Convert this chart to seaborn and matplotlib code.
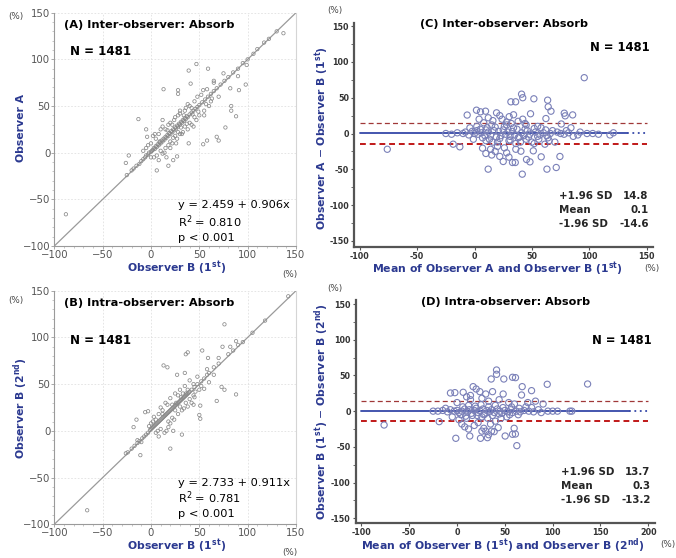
import numpy as np
import pandas as pd
import matplotlib
matplotlib.use("Agg")
import matplotlib.pyplot as plt
import seaborn as sns
from matplotlib.ticker import MultipleLocator

# ---------------- data ----------------
# Panel A: Observer B (1st) vs Observer A
a_obsB = [-88, 137, 117, 106, 47, 39, 59, 41, 13, 28, 28, 65, 54, 90, 98, 91, 82, 99, 83, 83, 88, 77, 68, 70, 58, 54,
          -13, -5, -4, -23, -26, 6, 12, 18, 23, 27, 39,
          -25, -20, -18, -15, -12, -10, -8, -6, -5, -3, -2, 0, 1, 2, 3, 4, 5, 6, 7, 8, 9, 10, 11, 12, 13, 14, 15, 16,
          17, 18, 19, 20, 21, 22, 23, 24, 25, 26, 27, 28, 29, 30, 31, 32, 33, 34, 35, 36, 37, 38, 40, 42, 44, 46, 48,
          50, 53, 56, 59, 62, 65, 68, 72, 76, 80, 85, 90, 95, 100, 110, 122, 130,
          5, 8, 10, 12, 15, 18, 20, 22, 25, 27, 30, 32, 35, 38, 40, 42, 45, 47, 50, 52, 55, 58, 60, 3, 6, 10, 15, 20,
          25, 28, 33, 36, 40, 45, 0, -3, 2, 12, 18, 24, 30, 35, 14, 20, 26, 30, 38, 44, 48, 55, 62, 65, 70, 75, 8, 16,
          22, 28, 34, 42, 0, -5, -8, 4, 9, 17, 23, 31, 37, 43, 49, 57, 63]
a_obsA = [-66, 128, 118, 106, 95, 88, 90, 74, 68, 67, 63, 77, 67, 82, 73, 67, 69, 94, 50, 45, 39, 27, 17, 13, 13, 9,
          36, 25, 17, -3, -11, -19, -1, -14, -8, -4, 10,
          -24, -19, -17, -14, -12, -9, -7, -5, -3, -2, 0, 1, 2, 3, 5, 4, 7, 6, 9, 8, 11, 10, 13, 12, 15, 14, 17, 16,
          19, 18, 21, 20, 23, 22, 25, 24, 27, 26, 29, 28, 31, 30, 33, 32, 35, 34, 37, 36, 39, 38, 41, 43, 45, 47, 49,
          51, 54, 57, 60, 63, 66, 69, 73, 77, 81, 86, 90, 96, 100, 111, 122, 130,
          15, 20, 25, 28, 5, 8, 32, 10, 38, 15, 42, 20, 45, 25, 50, 30, 55, 35, 40, 62, 45, 68, 50, -5, -3, 2, 25, 12,
          18, 40, 22, 48, 32, 38, 10, 8, 18, 35, 30, 35, 20, 28, 0, 5, 10, 45, 52, 28, 60, 40, 55, 75, 60, 85, -8, -5,
          30, 22, 40, 48, -5, 5, 2, 20, 12, 24, 16, 27, 31, 41, 44, 52, 58]

# Panel B: Observer B (1st) vs Observer B (2nd)
b_first = [-66, 142, 76, 53, 38, 36, 13, 17, 27, 35, 59, 58, 74, 82, 88, 73, 76, 88, 68, 51, 44, 50, 51, 32, 20,
           -11, -18, -15, -6, -3, 23, 16, -26, -14, -10,
           118, 105, 95, 90, 85, 80, 70, 65, 60, 58, 55, 52, 48, 45, 42, 40,
           -24, -20, -17, -14, -12, -9, -7, -5, -3, -1, 0, 1, 2, 3, 4, 5, 6, 7, 8, 9, 10, 11, 12, 13, 14, 15, 16, 17,
           18, 19, 20, 21, 22, 23, 24, 25, 26, 27, 28, 29, 30, 31, 32, 33, 34, 35, 36, 37, 38, 39,
           0, 5, 8, 12, 15, 18, 20, 22, 25, 28, 30, 32, 35, 38, 40, 42, 45, 48, 55, 60, 65, 70, 10, 14, 20, 24, 28, 33,
           36, 40, 44, 5, -2, 3, 10, 17, 26, 34, 38, 46, 52, 2, 7, 12, 22, 30, 36, 8, 18, 25, 31, 44, 50]
b_second = [-85, 144, 114, 86, 84, 82, 70, 68, 60, 62, 78, 66, 90, 90, 96, 47, 44, 39, 32, 27, 28, 17, 13, -4, -19,
            -26, 4, 12, 20, 21, 0, 0, -24, -10, -12,
            118, 105, 95, 92, 86, 82, 72, 68, 62, 60, 56, 53, 50, 47, 44, 42,
            -23, -19, -16, -13, -11, -8, -6, -4, -2, 1, 2, 3, 4, 5, 6, 7, 8, 9, 10, 11, 12, 13, 14, 15, 16, 17, 18, 19,
            20, 21, 22, 23, 24, 25, 26, 27, 28, 29, 30, 31, 32, 33, 34, 35, 36, 37, 38, 39, 40, 41,
            8, 12, 18, 22, 30, 10, 35, 14, 40, 18, 44, 22, 48, 26, 54, 30, 36, 58, 45, 52, 60, 78, 2, -2, 8, 12, 38, 40,
            30, 34, 50, -2, 5, 15, 25, 28, 30, 24, 44, 42, 48, 10, 0, 18, 28, 26, 40, -6, 4, 22, 36, 38, 44]

# Panel C: Bland-Altman (inter-observer)
c_mean = [-76, 95.6, 41, 42, 51.7, 31.7, 35.8, 63.7, 64.2, 66.6, 1.7, 5.2, 9.6, -6.4, 19.2, 22, 30.2, 34, 48.8, 62.2,
          78.2, 85.5, 79, 75.6, -18.6, -12.8, 7, 9.9, 11.9, 25, 33.1, 35.5, 41.6, 40.4, 45.3, 48.3, 51.2, 58.1, 63.1,
          71.2, 74.4, 61.3, 52, 15, 18, 22, 28, 30, 14, 20, 26, 36, 12, 16, 24, 28, 32, 38, 42, 45, 55, 58, 15, 8, 4,
          2, -4, 10, 20, 30, 40, 45, 50, 56, 65, 70, 68, 72, 80, 84, 86, 90, 92, 98, 103, 108, 118, 121, 0, -25, -20,
          -15, -10, -8, -5, 3, 6, 9, 12, 14, 17, 19, 21, 23, 25, 27, 29, 31, 33, 35, 37, 39, 41, 43, 46, 48, 53, 57,
          60, 63, 66, 75, 78, 82, 5, 11, 18, 26, 34, 44, 52, 62, 7, 13, 22, 31, 38, 47, 55, 64, 10, 16, 28, 36, 44,
          -1, 2, -2]
c_diff = [-22, 78, 55, 50, 48.5, 44.3, 44.3, 46.6, 37.3, 31.2, 32.6, 30.3, 31.2, 25.8, 28.9, 25, 23.5, 26.2, 27.6,
          20.9, 28.4, 26, 24.7, 13.3, -14.9, -18.6, -20.5, -27.9, -49.8, -39.1, -40.5, -40.5, -56.8, -24.7, -36.3,
          -39.6, -24.2, -32.6, -49.8, -47.5, -32.1, -14.9, -14, -30, -25, -32, -27, -33, -22, -18, -20, -22, 22, 18,
          20, 16, 14, 17, 20, 12, 10, 8, 12, 15, 20, 10, 8, -10, -12, -10, -12, -8, -12, -8, -10, -12, 4, 2, 4, 8, -4,
          -2, 2, 0, 0, -1, -2, 1, 0, 0, -1, 1, 0, 2, -2, -1, 1, -3, 2, -2, 4, -5, 3, -3, 5, -1, 2, -4, 3, -2, 6, -5, 1,
          -3, 4, -1, 2, -2, 1, -3, 0, 0, -1, 1, 6, 8, 9, 10, 8, 6, 7, 5, -6, -8, -7, -9, -6, -5, -4, -6, 5, -12, 12,
          -14, 14, -8, 4, 3]

# Panel D: Bland-Altman (intra-observer)
d_mean = [-76.3, 136.5, 94.3, 41.3, 41.3, 48.9, 35.7, 58, 61.1, 77.9, 68.1, 67.4, 48.2, 16.8, 20, -6.9, -2.3, 6.4,
          23.8, 37.1, 30, 10, 14, 26, 33, 44, 54, 60, 74, 82, 90, -1.3, 13.3, 24.5, 31.8, 33, 38.8, 43, 50.3, 59.7, 58,
          61, 62.5, -18.7, 5, 8, 12, 18, 22, 28, 35, 40, 46, 52, -5, 10, 16, 26, 32, -25, -20, -15, -10, -7, -3, 0, 2,
          5, 8, 11, 13, 15, 18, 20, 22, 24, 27, 29, 31, 34, 36, 39, 42, 45, 47, 50, 53, 56, 58, 62, 66, 70, 75, 80, 85,
          88, 95, 100, 105, 118, 120, 6, 12, 19, 25, 33, 40, 48, 57, 65, 72, 78, 4, 9, 21, 28, 37, 44, 55, 64, -12, 0,
          2, 14, 26, 30, 36]
d_diff = [-19.4, 38, 37.6, 57.6, 51.6, 45, 45, 47.4, 46.9, 28.7, 34.3, 22.6, 24, 34.3, 31, 25.4, 25.9, 26.4, 27.3,
          27.3, 24, 20, 16, 18, 14, 16, 12, 10, 12, 14, 10, -38, -34.8, -38, -37.1, -33, -28.7, -23.1, -34.8, -24,
          -32.4, -32, -48.3, -14.7, -18, -22, -25, -20, -16, -24, -18, -14, -10, -8, -8, -10, -6, -8, -10, 0, 0, 1, -1,
          2, 0, 1, -2, 0, 3, -1, 2, -3, 1, 4, -2, 0, 3, -4, 1, -1, 2, -2, 3, 0, -3, 1, -1, 2, -2, 0, -1, 1, 0, -1, 2,
          -2, 0, 0, 0, 0, 0, 6, 8, 7, 9, 6, 8, 5, 6, 4, 6, 5, -5, -7, -6, -5, -6, -4, -5, -5, 4, 12, -12, 22, -28, -28,
          -28]

# ---------------- style ----------------
sns.set_theme(style="white")
plt.rcParams["font.family"] = ["DejaVu Sans"]
BLUE_LBL = "#2b3990"
LBL_FS = 7.8

fig = plt.figure(figsize=(6.76, 5.58), dpi=100)
W, H = 676.0, 558.0


def px(x0, y0, x1, y1):
    return [x0 / W, 1 - y1 / H, (x1 - x0) / W, (y1 - y0) / H]


def ftext(x, y, s, **kw):
    fig.text(x / W, 1 - y / H, s, **kw)


def scatter_panel(rect, xs, ys, title, ylabel, xlabel, reg_lines, reg_y, title_y, n_y,
                  pct_top, pct_bot, ylab_pos, xlab_pos):
    ax = fig.add_axes(rect)
    df = pd.DataFrame({"x": xs, "y": ys})
    ax.plot([-100, 150], [-100, 150], color="#9a9a9a", lw=0.9, zorder=1)
    sns.scatterplot(data=df, x="x", y="y", ax=ax, s=6, facecolor="none", edgecolor="#8a8a8a",
                    linewidth=0.55, zorder=2)
    ax.set_xlim(-100, 150)
    ax.set_ylim(-100, 150)
    ax.set_xticks([-100, -50, 0, 50, 100, 150])
    ax.set_yticks([-100, -50, 0, 50, 100, 150])
    ax.xaxis.set_minor_locator(MultipleLocator(10))
    ax.yaxis.set_minor_locator(MultipleLocator(10))
    ax.grid(True, which="major", color="#e0e0e0", lw=0.6, ls=(0, (2, 2)))
    ax.spines["top"].set_visible(False)
    ax.spines["right"].set_color("#d5d5d5")
    ax.spines["right"].set_linewidth(0.8)
    for s in ["left", "bottom"]:
        ax.spines[s].set_color("#9a9a9a")
        ax.spines[s].set_linewidth(0.8)
    ax.tick_params(axis="both", which="major", length=2, width=0.6, color="#9a9a9a",
                   labelsize=7.3, labelcolor="#555555", pad=0.8, left=True, bottom=True)
    ax.tick_params(axis="both", which="minor", length=1.5, width=0.5, color="#b0b0b0", left=True, bottom=True)
    ax.set_xlabel("")
    ax.set_ylabel("")
    ax.text(0.04, title_y, title, transform=ax.transAxes, fontsize=8.2, fontweight="bold",
            ha="left", va="center", color="black")
    ax.text(0.066, n_y, "N = 1481", transform=ax.transAxes, fontsize=8.6, fontweight="bold",
            ha="left", va="center", color="black")
    for line, yy in zip(reg_lines, reg_y):
        ax.text(0.512, yy, line, transform=ax.transAxes, fontsize=8.2, ha="left", va="center",
                color="black")
    ftext(*pct_top, "(%)", fontsize=6.3, color="#444444", ha="center", va="center")
    ftext(*pct_bot, "(%)", fontsize=6.3, color="#444444", ha="center", va="center")
    ftext(*ylab_pos, ylabel, rotation=90, fontsize=LBL_FS, fontweight="bold", color=BLUE_LBL,
          ha="center", va="center")
    ftext(*xlab_pos, xlabel, fontsize=LBL_FS, fontweight="bold", color=BLUE_LBL, ha="center", va="center")
    return ax


def ba_panel(rect, xs, ys, xlim, ylim, xticks, title, ylabel, xlabel, sd_hi, mean, sd_lo, line_end,
             title_y, n_y, stat_y, pct_top, pct_bot, ylab_pos, xlab_pos):
    ax = fig.add_axes(rect)
    df = pd.DataFrame({"x": xs, "y": ys})
    ax.plot([-100, line_end], [mean, mean], color="#3548a8", lw=1.3, zorder=1)
    ax.plot([line_end, xticks[-1]], [mean, mean], color="#3548a8", lw=1.3, ls=(0, (1, 2)), zorder=1)
    ax.plot([-100, xticks[-1]], [sd_hi, sd_hi], color="#a03838", lw=0.9, ls=(0, (4, 2.5)), zorder=1)
    ax.plot([-100, xticks[-1]], [sd_lo, sd_lo], color="#c01818", lw=1.4, ls=(0, (3, 2)), zorder=1)
    sns.scatterplot(data=df, x="x", y="y", ax=ax, s=20, facecolor="none", edgecolor="#7a80b8",
                    linewidth=0.8, zorder=2)
    ax.set_xlim(*xlim)
    ax.set_ylim(*ylim)
    ax.set_xticks(xticks)
    ax.set_xticklabels([str(t) for t in xticks])
    yt = [-150, -100, -50, 0, 50, 100, 150]
    ax.set_yticks(yt)
    ax.set_yticklabels([str(t) for t in yt])
    ax.yaxis.set_minor_locator(MultipleLocator(25))
    for s in ["top", "right"]:
        ax.spines[s].set_visible(False)
    for s in ["left", "bottom"]:
        ax.spines[s].set_color("#555555")
        ax.spines[s].set_linewidth(1.6)
    ax.tick_params(axis="both", which="major", length=2.5, width=0.8, color="#555555",
                   labelsize=5.8, labelcolor="#333333", pad=1, left=True, bottom=True)
    ax.tick_params(axis="y", which="minor", length=2, width=0.6, color="#555555", left=True)
    for lab in ax.get_xticklabels() + ax.get_yticklabels():
        lab.set_fontweight("bold")
    ax.set_xlabel("")
    ax.set_ylabel("")
    ax.text(0.5, title_y, title, transform=ax.transAxes, fontsize=8.1, fontweight="bold",
            ha="center", va="center", color="black")
    ax.text(0.99, n_y, "N = 1481", transform=ax.transAxes, fontsize=8.4, fontweight="bold",
            ha="right", va="center", color="black")
    labs = ["+1.96 SD", "Mean", "-1.96 SD"]
    vals = [f"{sd_hi:.1f}", f"{mean:.1f}", f"{sd_lo:.1f}"]
    for yy, l, v in zip(stat_y, labs, vals):
        ax.text(0.686, yy, l, transform=ax.transAxes, fontsize=7.4, fontweight="bold", ha="left", va="center")
        ax.text(0.985, yy, v, transform=ax.transAxes, fontsize=7.4, fontweight="bold", ha="right", va="center")
    ftext(*pct_top, "(%)", fontsize=6.3, color="#444444", ha="center", va="center")
    ftext(*pct_bot, "(%)", fontsize=6.3, color="#444444", ha="center", va="center")
    ftext(*ylab_pos, ylabel, rotation=90, fontsize=LBL_FS, fontweight="bold", color=BLUE_LBL,
          ha="center", va="center")
    ftext(*xlab_pos, xlabel, fontsize=LBL_FS, fontweight="bold", color=BLUE_LBL, ha="center", va="center")
    return ax


scatter_panel(px(54.3, 12.7, 296, 246), a_obsB, a_obsA, "(A) Inter-observer: Absorb", "Observer A",
              r"Observer B (1$^{\mathbf{st}}$)",
              ["y = 2.459 + 0.906x", "R$^2$ = 0.810", "p < 0.001"], [0.175, 0.105, 0.036],
              0.947, 0.832, (16, 17), (290, 274), (21, 128), (177, 268))
scatter_panel(px(54.3, 290.7, 296, 524.3), b_first, b_second, "(B) Intra-observer: Absorb",
              r"Observer B (2$^{\mathbf{nd}}$)", r"Observer B (1$^{\mathbf{st}}$)",
              ["y = 2.733 + 0.911x", "R$^2$ = 0.781", "p < 0.001"], [0.176, 0.114, 0.046],
              0.946, 0.786, (16, 301), (290, 553), (21, 408), (177, 546))
ba_panel(px(354, 23.3, 653, 247.3), c_mean, c_diff, (-105, 155.5), (-159, 154),
         [-100, -50, 0, 50, 100, 150], "(C) Inter-observer: Absorb",
         r"Observer A $-$ Observer B (1$^{\mathbf{st}}$)",
         r"Mean of Observer A and Observer B (1$^{\mathbf{st}}$)",
         14.8, 0.1, -14.6, 133, 0.997, 0.89, [0.229, 0.167, 0.104],
         (335, 10), (652, 269), (322, 138), (497, 269))
ba_panel(px(355.7, 300, 655, 523.3), d_mean, d_diff, (-106, 207), (-157, 155.6),
         [-100, -50, 0, 50, 100, 150, 200], "(D) Intra-observer: Absorb",
         r"Observer B (1$^{\mathbf{st}}$) $-$ Observer B (2$^{\mathbf{nd}}$)",
         r"Mean of Observer B (1$^{\mathbf{st}}$) and Observer B (2$^{\mathbf{nd}}$)",
         13.7, 0.3, -13.2, 180, 0.992, 0.818, [0.228, 0.167, 0.105],
         (335, 288), (668, 545), (322, 412), (503, 546))

fig.savefig("out.png", dpi=100)
